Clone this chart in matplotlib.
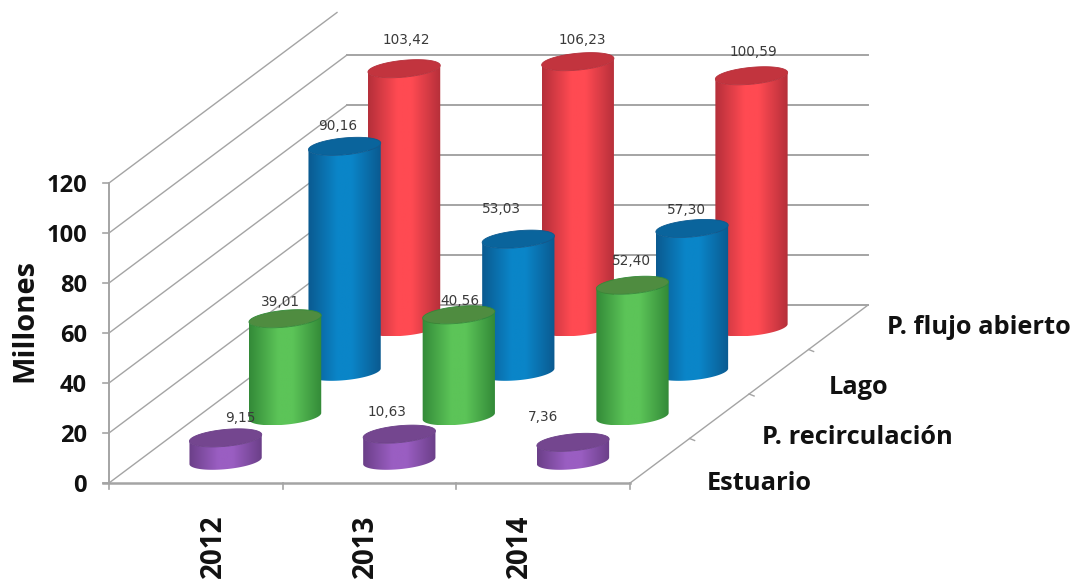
import numpy as np
import matplotlib
matplotlib.use("Agg")
import matplotlib.pyplot as plt
from matplotlib.patches import Polygon
from matplotlib.colors import LinearSegmentedColormap

# Data
years = ["2012", "2013", "2014"]
series = ["Estuario", "P. recirculación", "Lago", "P. flujo abierto"]
estuario = [9.15, 10.63, 7.36]
recirculacion = [39.01, 40.56, 52.40]
lago = [90.16, 53.03, 57.30]
flujo_abierto = [103.42, 106.23, 100.59]
y_ticks = [0, 20, 40, 60, 80, 100, 120]

# Oblique projection of the chart box onto the canvas
X0, Y0 = 109, 483
CAT_W = 173.7
DEPTH_X, DEPTH_Y = 238, -178
PX_PER_UNIT = 2.5

def project(cat, depth, value=0):
    # cat in category widths, depth in 0..1 front to back
    return X0 + cat * CAT_W + depth * DEPTH_X, Y0 + depth * DEPTH_Y - value * PX_PER_UNIT

fig = plt.figure(figsize=(10.77, 5.8), dpi=100)
ax = fig.add_axes([0, 0, 1, 1])
ax.set_xlim(0, 1077)
ax.set_ylim(580, 0)
ax.axis("off")

GRID = "#a4a4a4"
TEXT = "#111111"
FONT = "Open Sans"

# Walls and floor
for v in y_ticks:
    end = 0.958 if v == 120 else 1
    x1, y1 = project(0, 0, v)
    x2, y2 = project(0, end, v)
    ax.plot([x1, x2], [y1, y2], color=GRID, lw=1.0, zorder=1)
    ax.plot([x1 - 6, x1], [y1, y1], color=GRID, lw=1.2, zorder=1)
    if v < 120:
        x3, y3 = project(3, 1, v)
        ax.plot([x2, x3], [y2, y3], color=GRID, lw=1.4, zorder=1)
    ax.text(87, y1 + 2.5, str(v), ha="right", va="center", fontsize=17, fontweight="bold",
            family=FONT, color=TEXT)

x1, y1 = project(0, 0, 120)
ax.plot([x1, x1], [y1, Y0], color=GRID, lw=1.4, zorder=1)
x2, y2 = project(3, 0)
ax.plot([X0 - 6, x2], [Y0, Y0], color=GRID, lw=1.8, zorder=1)
x3, y3 = project(3, 1)
ax.plot([x2, x3], [y2, y3], color=GRID, lw=1.0, zorder=1)
for c in range(4):
    x, y = project(c, 0)
    ax.plot([x, x], [y, y + 6], color=GRID, lw=1.2, zorder=1)
for d in range(1, 4):
    x, y = project(3, d / 4)
    ax.plot([x, x + 5], [y, y + 2], color=GRID, lw=1.0, zorder=1)

# Cylinder styling, one entry per series
edge_colors = ["#6b3f88", "#338a38", "#0b5a90", "#b52f3a"]
mid_colors = ["#9a5ec2", "#5cc458", "#0a85c8", "#ff4a52"]
top_colors = ["#74468f", "#4f8c40", "#0a649c", "#c2343e"]

HALF_W = 36.3
HALF_H = 8.4
TILT = np.radians(-5.5)

def ellipse_points(cx, cy, t):
    ex = HALF_W * np.cos(t)
    ey = HALF_H * np.sin(t)
    return (cx + ex * np.cos(TILT) - ey * np.sin(TILT),
            cy + ex * np.sin(TILT) + ey * np.cos(TILT))

def draw_cylinder(cat, s, value):
    cx, base = project(cat + 0.5, (s + 0.5) / 4)
    _, top = project(cat + 0.5, (s + 0.5) / 4, value)
    z = 10 + (3 - s) * 10 + cat

    t = np.linspace(0, 2 * np.pi, 121)
    ex, ey = ellipse_points(0, 0, t)
    left, right = t[np.argmin(ex)], t[np.argmax(ex)]

    # Lower half of the base, then back over the top end
    arc = np.linspace(right, left, 60)
    bx, by = ellipse_points(cx, base, arc)
    tx, ty = ellipse_points(cx, top, arc)
    body = np.column_stack([np.r_[bx, tx[::-1]], np.r_[by, ty[::-1]]])

    cmap = LinearSegmentedColormap.from_list(
        "cyl", [(0, edge_colors[s]), (0.4, mid_colors[s]), (0.6, mid_colors[s]), (1, edge_colors[s])])
    grad = np.linspace(0, 1, 128)[None, :]
    ymin, ymax = body[:, 1].min(), body[:, 1].max()
    im = ax.imshow(grad, cmap=cmap, extent=[cx - HALF_W, cx + HALF_W, ymax, ymin],
                   aspect="auto", zorder=z, interpolation="bilinear")
    clip = Polygon(body, closed=True, transform=ax.transData)
    im.set_clip_path(clip)

    ax.add_patch(Polygon(np.column_stack(ellipse_points(cx, top, t)), closed=True,
                         facecolor=top_colors[s], edgecolor=edge_colors[s], lw=0.6,
                         zorder=z + 1))

values = [estuario, recirculacion, lago, flujo_abierto]
for s in range(3, -1, -1):
    for c in range(3):
        draw_cylinder(c, s, values[s][c])

ax.set_xlim(0, 1077)
ax.set_ylim(580, 0)

# Value labels sit by hand around each cylinder top
label_shift = [
    [(15, -20), (-12, -22), (-30, -25)],
    [(-5, -17), (1, -14), (-1, -24)],
    [(-7, -20), (-17, -30), (-6, -19)],
    [(2, -29), (5, -22), (2, -24)],
]
for s in range(4):
    for c in range(3):
        x, y = project(c + 0.5, (s + 0.5) / 4, values[s][c])
        dx, dy = label_shift[s][c]
        label = f"{values[s][c]:.2f}".replace(".", ",")
        ax.text(x + dx, y + dy, label, ha="center", va="center", fontsize=9.8,
                color="#3a3a3a", zorder=100)

# Axis names
ax.text(25, 320, "Millones", rotation=90, ha="center", va="center", fontsize=21,
        fontweight="bold", family=FONT, color=TEXT)
for name, x in zip(years, [213, 365, 519]):
    ax.text(x, 546, name, rotation=90, ha="center", va="center", fontsize=20,
            fontweight="bold", family=FONT, color=TEXT)
for name, x, y in zip(series, [707, 762, 829, 887], [484, 437, 387, 328]):
    ax.text(x, y, name, ha="left", va="center", fontsize=18.3, fontweight="bold",
            family=FONT, color=TEXT)

fig.savefig("out.png", dpi=100, facecolor="white")
